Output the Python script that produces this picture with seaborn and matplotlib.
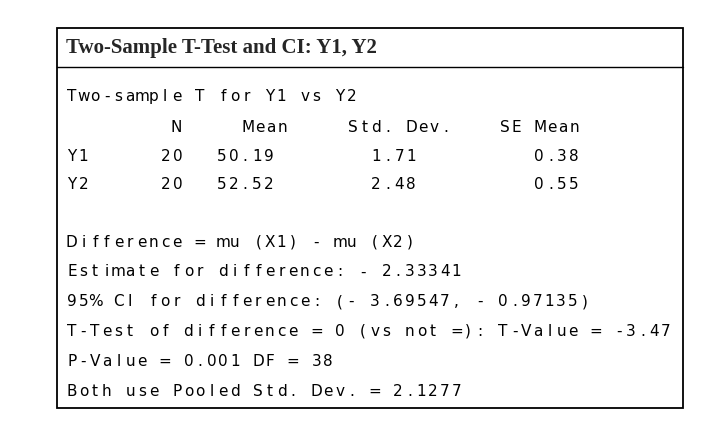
import matplotlib
matplotlib.use("Agg")
import matplotlib.pyplot as plt
import seaborn as sns
from matplotlib.patches import Rectangle

sns.set_style("white")
plt.rcParams['font.family'] = ['DejaVu Sans']

title = "Two-Sample T-Test and CI: Y1, Y2"
subtitle = "Two-sample T for Y1 vs Y2"
headers = ["N", "Mean", "Std. Dev.", "SE Mean"]
names = ["Y1", "Y2"]
n_vals = ["20", "20"]
means = ["50.19", "52.52"]
stdevs = ["1.71", "2.48"]
semeans = ["0.38", "0.55"]
lines = [
    "Difference = mu (X1) - mu (X2)",
    "Estimate for difference: - 2.33341",
    "95% CI for difference: (- 3.69547, - 0.97135)",
    "T-Test of difference = 0 (vs not =): T-Value = -3.47",
    "P-Value = 0.001 DF = 38",
    "Both use Pooled Std. Dev. = 2.1277",
]

W, H = 709, 436
fig = plt.figure(figsize=(W / 100, H / 100), dpi=100)
ax = fig.add_axes([0, 0, 1, 1])
ax.set_xlim(0, W)
ax.set_ylim(H, 0)
ax.axis("off")

ax.add_patch(Rectangle((57, 28), 626, 380, fill=False, lw=1.3, ec="black"))
ax.plot([57, 683], [67, 67], color="black", lw=1.0)
ax.text(66, 48, title, fontsize=15, fontweight="bold", family="Liberation Serif",
        va="center", ha="left")

PITCH = 11.65

def spaced(x, y, s):
    for i, c in enumerate(s):
        if c != " ":
            ax.text(x + i * PITCH + PITCH / 2, y, c, fontsize=11, ha="center",
                    va="center", color="black")

spaced(66, 96, subtitle)
for h, x in zip(headers, [170, 242, 347, 499]):
    spaced(x, 127, h)
for j, y in enumerate([156, 184]):
    spaced(66, y, names[j])
    spaced(160, y, n_vals[j])
    spaced(216, y, means[j])
    spaced(370, y, stdevs[j])
    spaced(533, y, semeans[j])
for k, s in enumerate(lines):
    spaced(66, 242 + k * 29.8, s)

fig.savefig("out.png", dpi=100)
